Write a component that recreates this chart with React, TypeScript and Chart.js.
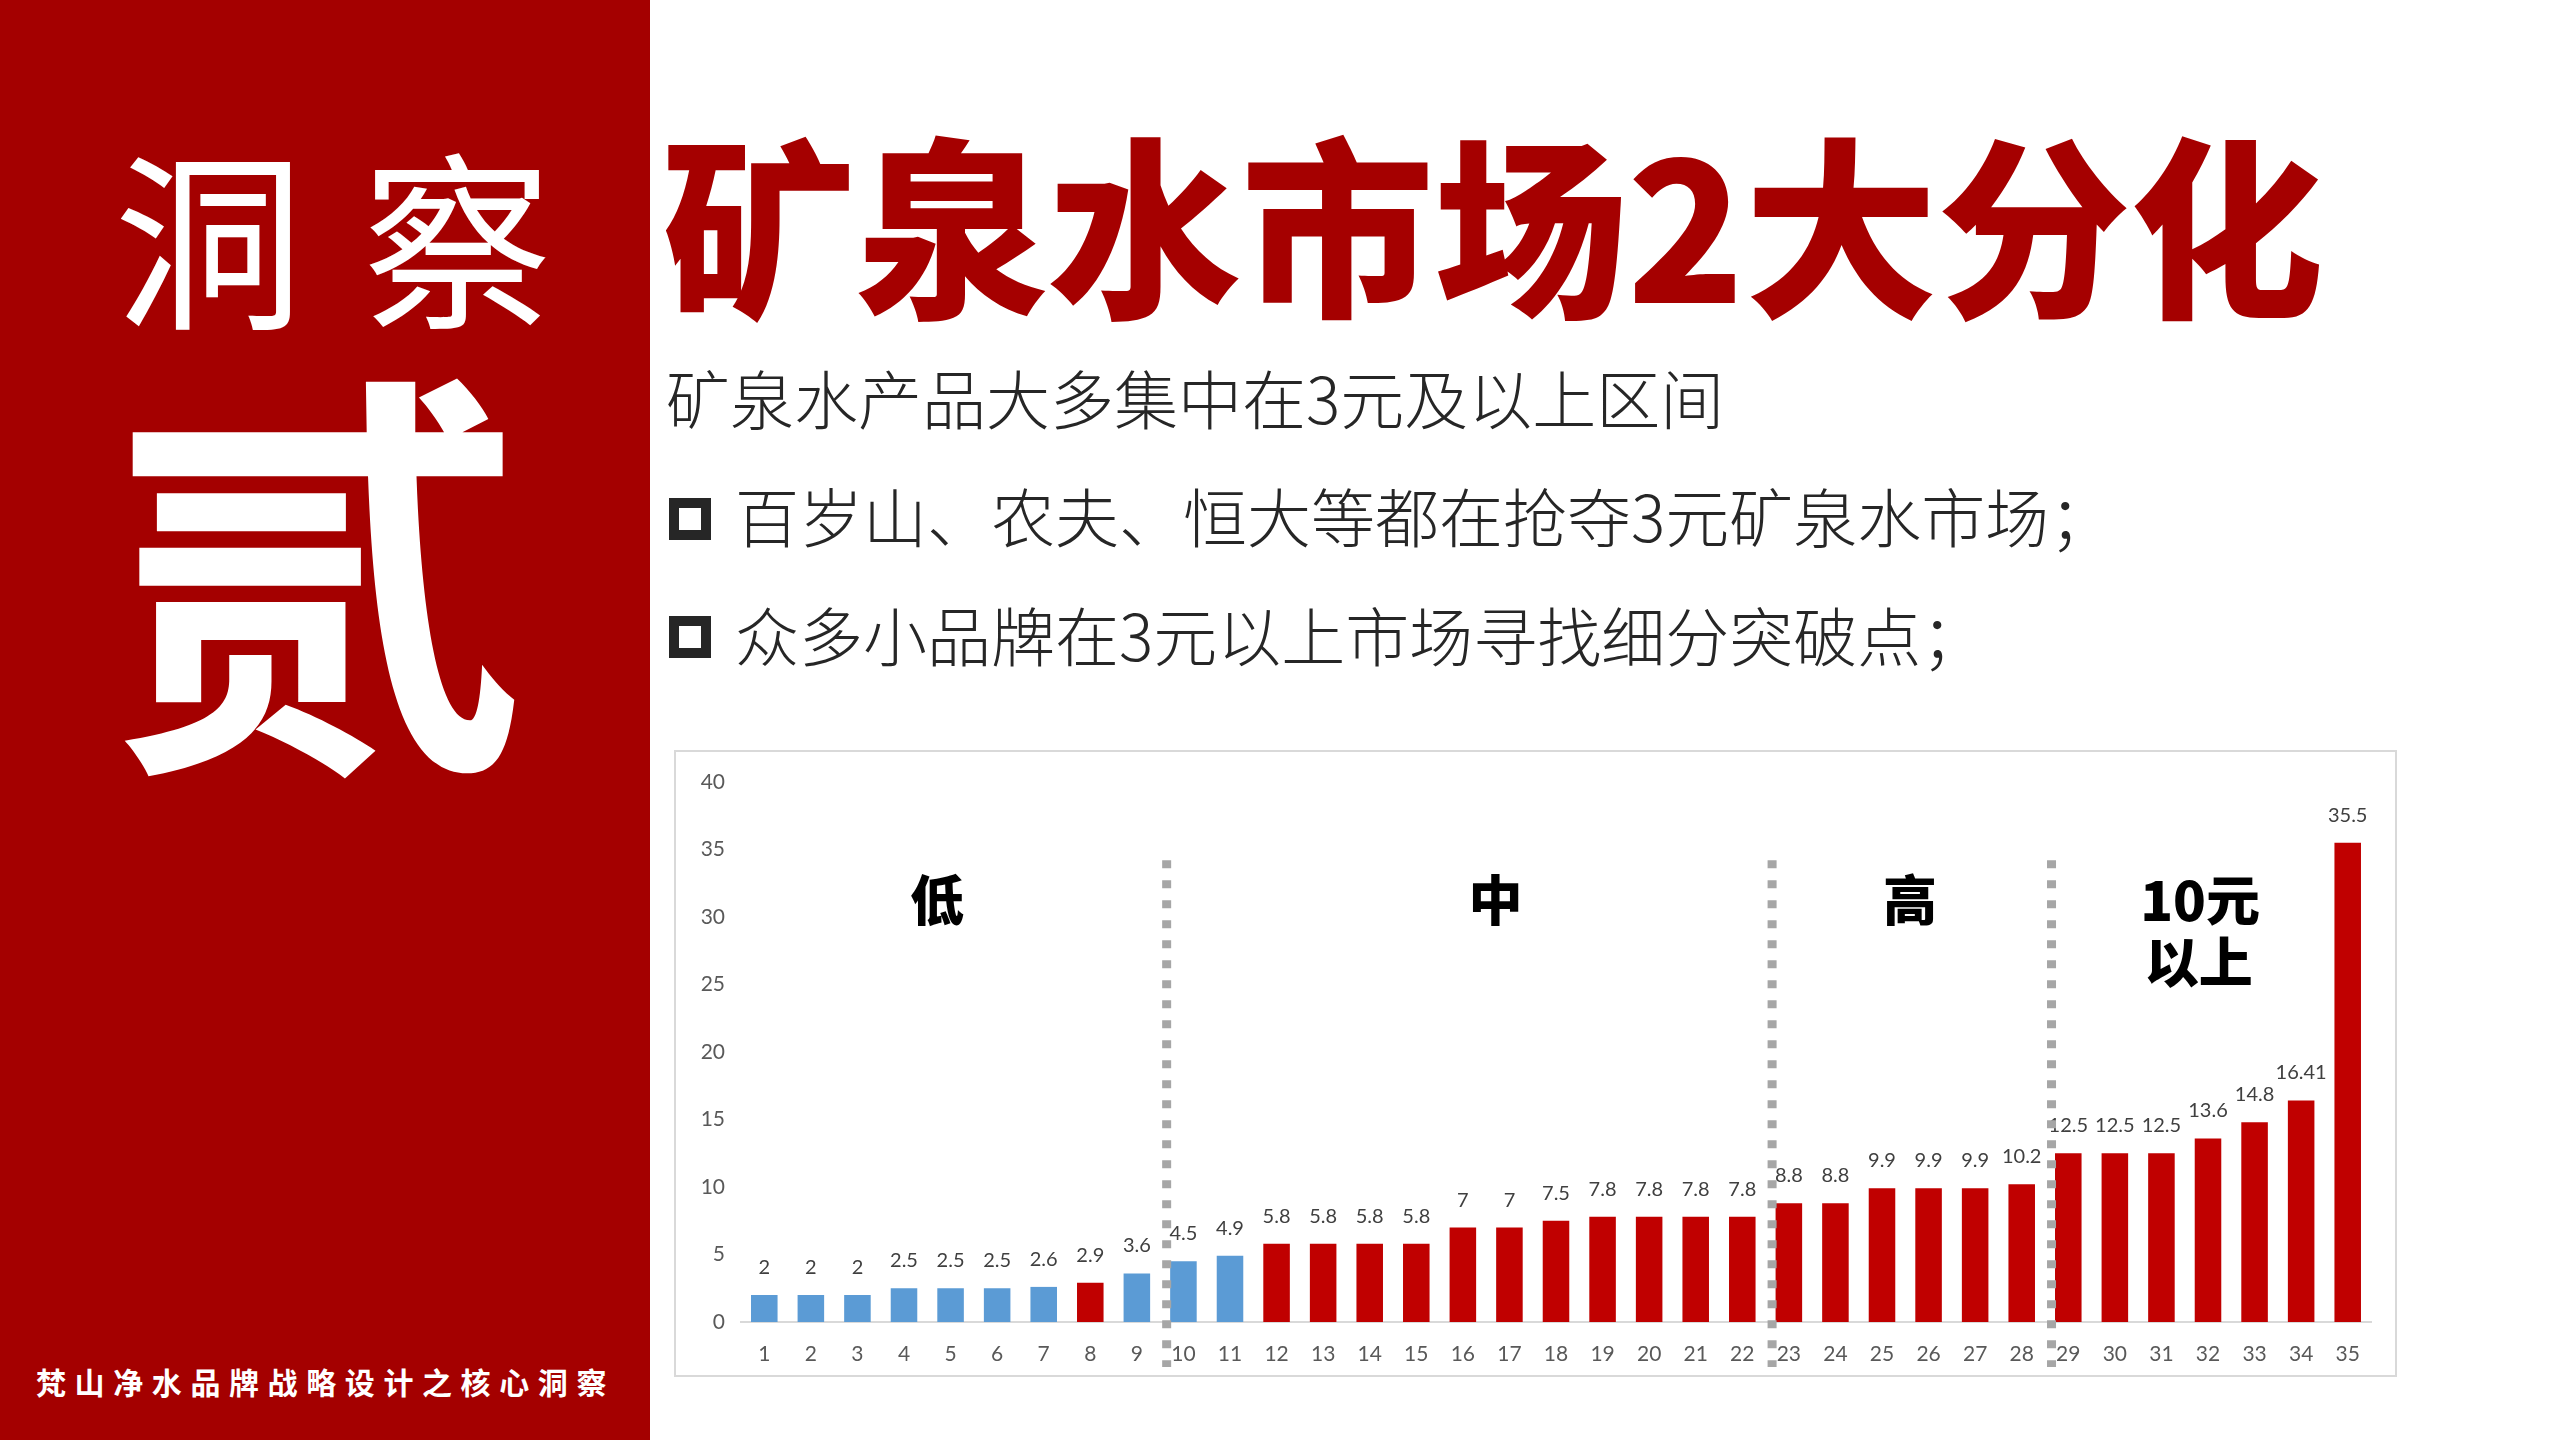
import React, { useEffect, useRef } from 'react';
import { Chart, registerables } from 'chart.js';

Chart.register(...registerables);

// ---------- data ----------
const categories = [
  '1', '2', '3', '4', '5', '6', '7', '8', '9', '10', '11', '12', '13', '14', '15', '16', '17', '18',
  '19', '20', '21', '22', '23', '24', '25', '26', '27', '28', '29', '30', '31', '32', '33', '34', '35',
];
const prices = [
  2, 2, 2, 2.5, 2.5, 2.5, 2.6, 2.9, 3.6, 4.5, 4.9, 5.8, 5.8, 5.8, 5.8, 7, 7, 7.5, 7.8, 7.8, 7.8, 7.8,
  8.8, 8.8, 9.9, 9.9, 9.9, 10.2, 12.5, 12.5, 12.5, 13.6, 14.8, 16.41, 35.5,
];
// group of each bar: 'A' = blue, 'B' = red
const barGroups = [
  'A', 'A', 'A', 'A', 'A', 'A', 'A', 'B', 'A', 'A', 'A', 'B', 'B', 'B', 'B', 'B', 'B', 'B', 'B', 'B',
  'B', 'B', 'B', 'B', 'B', 'B', 'B', 'B', 'B', 'B', 'B', 'B', 'B', 'B', 'B',
];
const yTickMin = 0;
const yTickMax = 40;
const yTickStep = 5;

// price band names and the category after which each band ends
const bandNames = ['低', '中', '高', '10元', '以上'];
const bandDividersAfter = ['9', '22', '28'];

// ---------- annotation placement (data units) ----------
const bandLabelX = [3.71, 15.7, 24.6, 30.83, 30.8];
const bandLabelY = [31.2, 31.2, 31.2, 31.2, 26.6];
const dividerOffset = 0.64;
const dividerTopValue = 34.2;

const groupColors: Record<string, string> = { A: '#5b9bd5', B: '#c00000' };

const overlayPlugin = {
  id: 'overlay',
  afterDatasetsDraw(chart: any) {
    const ctx = chart.ctx as CanvasRenderingContext2D;
    const xs = chart.scales.x;
    const ys = chart.scales.y;
    const meta = chart.getDatasetMeta(0);
    ctx.save();
    // value labels
    ctx.font = '20px Lato, "Noto Sans", sans-serif';
    ctx.fillStyle = '#404040';
    ctx.textAlign = 'center';
    ctx.textBaseline = 'alphabetic';
    meta.data.forEach((bar: any, i: number) => {
      ctx.fillText(String(prices[i]), bar.x, bar.y - 21);
    });
    // dividers
    ctx.strokeStyle = '#a6a6a6';
    ctx.lineWidth = 9;
    ctx.setLineDash([8, 12]);
    ctx.lineCap = 'butt';
    bandDividersAfter.forEach((c) => {
      const idx = categories.indexOf(c);
      const px = xs.getPixelForValue(idx + dividerOffset);
      ctx.beginPath();
      ctx.moveTo(px, ys.getPixelForValue(dividerTopValue));
      ctx.lineTo(px, xs.bottom - 8);
      ctx.stroke();
    });
    ctx.setLineDash([]);
    // band names
    ctx.font = '900 54px "Noto Sans CJK SC", sans-serif';
    ctx.fillStyle = '#000000';
    ctx.textAlign = 'center';
    ctx.textBaseline = 'middle';
    bandNames.forEach((name, i) => {
      ctx.fillText(name, xs.getPixelForValue(bandLabelX[i]), ys.getPixelForValue(bandLabelY[i]));
    });
    ctx.restore();
  },
};

function BarChart() {
  const ref = useRef<HTMLCanvasElement | null>(null);
  useEffect(() => {
    if (!ref.current) return;
    const chart = new Chart(ref.current, {
      type: 'bar',
      data: {
        labels: categories,
        datasets: [
          {
            data: prices,
            backgroundColor: barGroups.map((g) => groupColors[g]),
            categoryPercentage: 1,
            barPercentage: 0.57,
          },
        ],
      },
      options: {
        animation: false,
        responsive: false,
        devicePixelRatio: 1,
        layout: { padding: { left: 0, right: 24, top: 30, bottom: 0 } },
        plugins: { legend: { display: false }, tooltip: { enabled: false } },
        scales: {
          x: {
            grid: { display: false, drawTicks: false },
            border: { display: true, color: '#d9d9d9', width: 2 },
            ticks: {
              color: '#595959',
              font: { family: 'Lato, "Noto Sans", sans-serif', size: 21 },
              padding: 20,
              maxRotation: 0,
              autoSkip: false,
            },
            afterFit: (s: any) => {
              s.height = 53;
            },
          },
          y: {
            min: yTickMin,
            max: yTickMax,
            grid: { display: false, drawTicks: false },
            border: { display: false },
            ticks: {
              stepSize: yTickStep,
              color: '#595959',
              font: { family: 'Lato, "Noto Sans", sans-serif', size: 21 },
              padding: 16,
            },
            afterFit: (s: any) => {
              s.width = 65;
            },
          },
        },
      },
      plugins: [overlayPlugin],
    });
    return () => chart.destroy();
  }, []);
  return <canvas ref={ref} width={1719} height={623} style={{ width: 1719, height: 623, display: 'block' }} />;
}

const cjk = '"Noto Sans CJK SC", "Noto Sans", sans-serif';

function TextBox(props: {
  left: number;
  cy: number;
  size: number;
  weight?: number;
  color: string;
  spacing?: number;
  children: React.ReactNode;
}) {
  return (
    <div
      style={{
        position: 'absolute',
        left: props.left,
        top: props.cy - props.size / 2,
        height: props.size,
        lineHeight: `${props.size}px`,
        fontSize: props.size,
        fontWeight: props.weight ?? 400,
        color: props.color,
        fontFamily: cjk,
        whiteSpace: 'nowrap',
        letterSpacing: props.spacing ?? 0,
      }}
    >
      {props.children}
    </div>
  );
}

function Bullet(props: { cy: number }) {
  return (
    <div
      style={{
        position: 'absolute',
        left: 669,
        top: props.cy - 21,
        width: 42,
        height: 42,
        boxSizing: 'border-box',
        border: '10px solid #262626',
      }}
    />
  );
}

export default function App() {
  return (
    <div
      style={{
        position: 'fixed',
        left: 0,
        top: 0,
        width: 2560,
        height: 1440,
        background: '#ffffff',
        overflow: 'hidden',
      }}
    >
      <div style={{ position: 'absolute', left: 0, top: 0, width: 650, height: 1440, background: '#a40000' }} />
      <TextBox left={114} cy={232} size={190} weight={400} color="#ffffff" spacing={58}>
        洞察
      </TextBox>
      <TextBox left={108} cy={555} size={418} weight={700} color="#ffffff">
        贰
      </TextBox>
      <TextBox left={36} cy={1381} size={30} weight={700} color="#ffffff" spacing={8.6}>
        梵山净水品牌战略设计之核心洞察
      </TextBox>

      <TextBox left={662} cy={219} size={193} weight={900} color="#a50000">
        矿泉水市场2大分化
      </TextBox>
      <TextBox left={666} cy={396} size={64} weight={300} color="#262626">
        矿泉水产品大多集中在3元及以上区间
      </TextBox>
      <Bullet cy={519} />
      <TextBox left={735} cy={514} size={64} weight={300} color="#262626">
        百岁山、农夫、恒大等都在抢夺3元矿泉水市场；
      </TextBox>
      <Bullet cy={637} />
      <TextBox left={735} cy={633} size={64} weight={300} color="#262626">
        众多小品牌在3元以上市场寻找细分突破点；
      </TextBox>

      <div
        style={{
          position: 'absolute',
          left: 674,
          top: 750,
          width: 1723,
          height: 627,
          boxSizing: 'border-box',
          border: '2px solid #d9d9d9',
        }}
      >
        <BarChart />
      </div>
    </div>
  );
}
